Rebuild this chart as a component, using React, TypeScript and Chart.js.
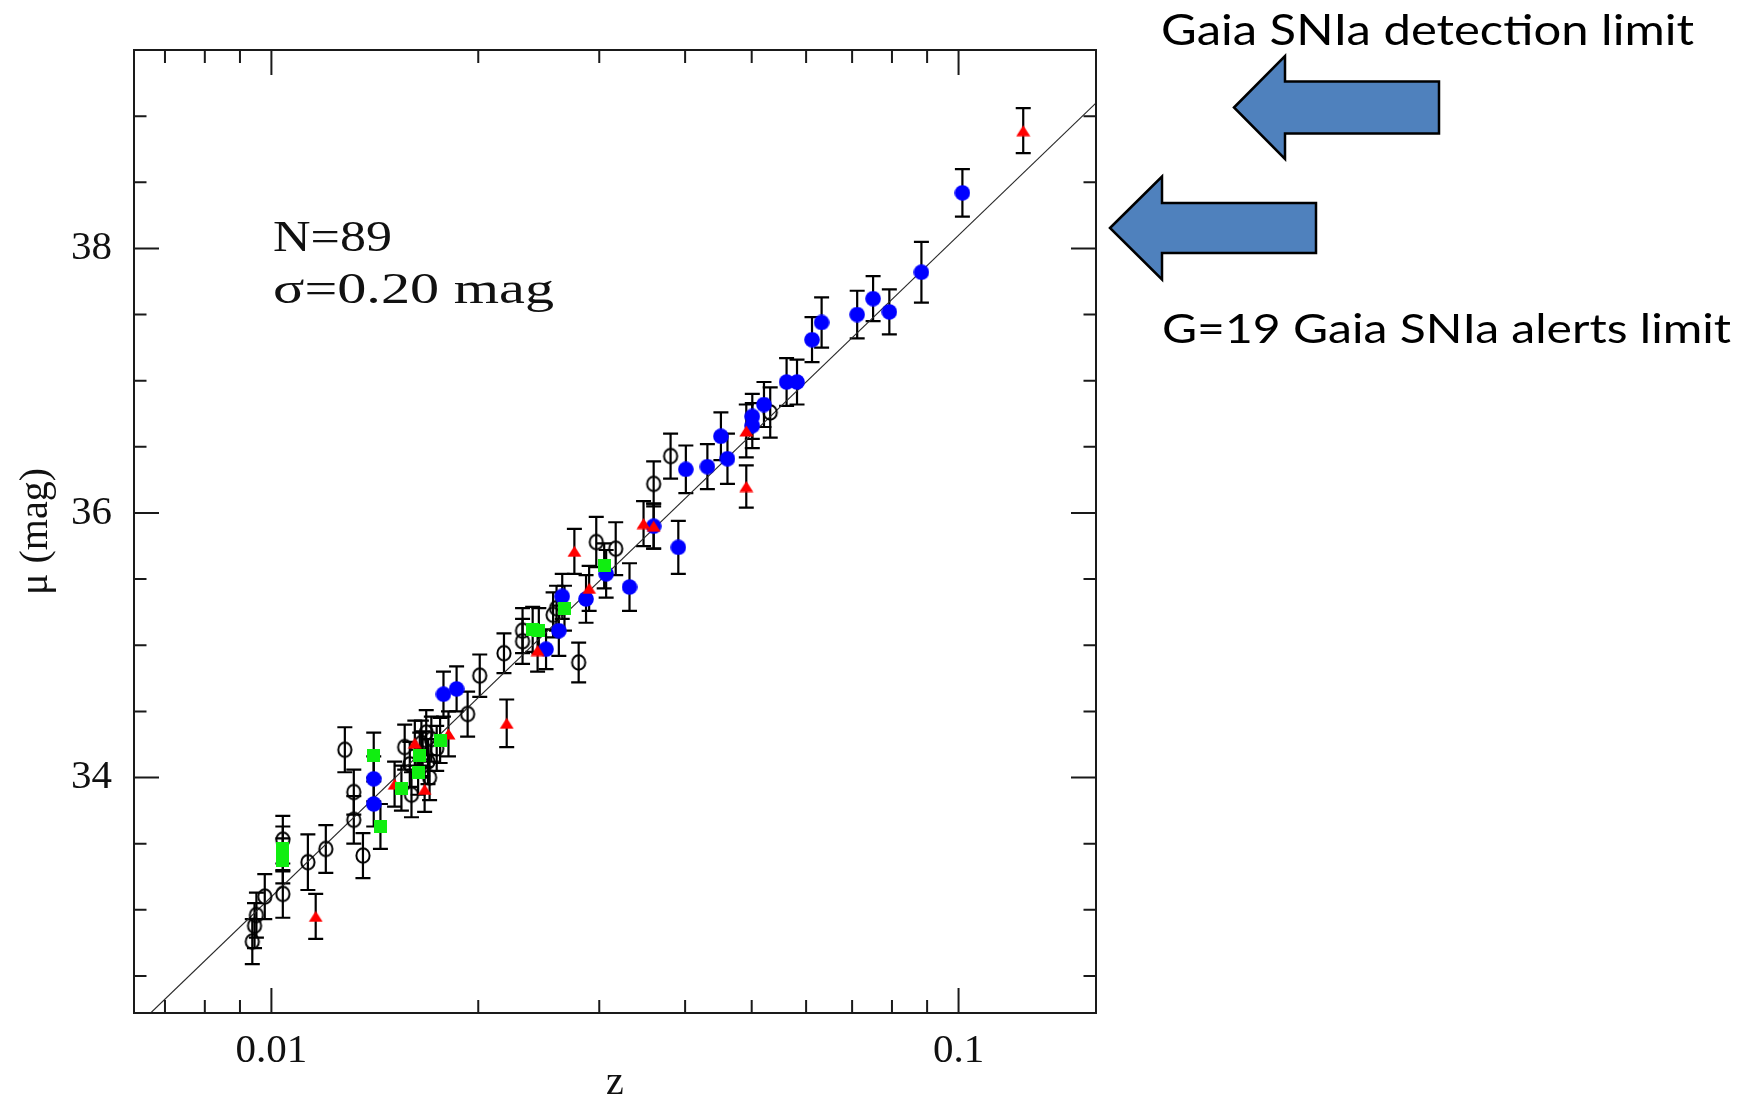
import React, { useEffect, useRef } from 'react';
import { Chart, registerables } from 'chart.js';

Chart.register(...registerables);

// ---- axis ranges & ticks ----
const xMin = 0.00631;
const xMax = 0.1585;
const yMin = 32.22;
const yMax = 39.5;
const xMajorTicks = [0.01, 0.1];
const xTickLabels = ['0.01', '0.1'];
const xMinorTicks = [0.007, 0.008, 0.009, 0.02, 0.03, 0.04, 0.05, 0.06, 0.07, 0.08, 0.09];
const yMajorTicks = [34, 36, 38];
const yTickLabels = ['34', '36', '38'];
const yMinorTicks = [32.5, 33, 33.5, 34.5, 35, 35.5, 36.5, 37, 37.5, 38.5, 39];

// ---- data: open circles ----
const zOpen = [0.0532, 0.0381, 0.036, 0.0317, 0.0297, 0.028, 0.026, 0.0257, 0.0232, 0.0232, 0.0218, 0.0201, 0.0193, 0.01699, 0.0169, 0.01709, 0.0168, 0.01653, 0.0166, 0.0174, 0.01599, 0.01563, 0.0159, 0.01279, 0.01318, 0.01318, 0.01359, 0.012, 0.0113, 0.01039, 0.01039, 0.00978, 0.00951, 0.00945, 0.00938];
const muOpen = [36.76, 36.43, 36.22, 35.73, 35.78, 34.87, 35.28, 35.23, 35.11, 35.03, 34.94, 34.77, 34.48, 34.0, 34.12, 34.29, 34.34, 34.26, 34.18, 34.22, 33.87, 34.23, 34.1, 34.21, 33.89, 33.68, 33.41, 33.46, 33.36, 33.53, 33.12, 33.1, 32.96, 32.88, 32.76];
const errOpen = [0.19, 0.17, 0.17, 0.2, 0.19, 0.15, 0.17, 0.17, 0.17, 0.17, 0.15, 0.16, 0.17, 0.17, 0.17, 0.17, 0.17, 0.17, 0.17, 0.17, 0.17, 0.17, 0.17, 0.17, 0.17, 0.18, 0.17, 0.18, 0.21, 0.18, 0.18, 0.17, 0.17, 0.17, 0.17];

// ---- data: blue filled circles ----
const zBlue = [0.1013, 0.0883, 0.0793, 0.0751, 0.0712, 0.0632, 0.0612, 0.0582, 0.0562, 0.0521, 0.0501, 0.0501, 0.0461, 0.0451, 0.0431, 0.0401, 0.0391, 0.036, 0.0332, 0.0307, 0.0287, 0.0265, 0.0262, 0.0251, 0.0186, 0.0178, 0.01409, 0.01409];
const muBlue = [38.42, 37.82, 37.52, 37.62, 37.5, 37.44, 37.31, 36.99, 36.99, 36.82, 36.73, 36.66, 36.41, 36.58, 36.35, 36.33, 35.74, 35.9, 35.44, 35.54, 35.35, 35.37, 35.11, 34.97, 34.67, 34.63, 33.99, 33.8];
const errBlue = [0.18, 0.23, 0.17, 0.17, 0.18, 0.19, 0.17, 0.17, 0.18, 0.17, 0.17, 0.17, 0.19, 0.18, 0.17, 0.18, 0.2, 0.17, 0.18, 0.18, 0.18, 0.17, 0.19, 0.15, 0.17, 0.17, 0.17, 0.17];

// ---- data: red triangles ----
const zRed = [0.1242, 0.0491, 0.0491, 0.036, 0.0348, 0.029, 0.0276, 0.0244, 0.022, 0.0181, 0.01671, 0.01617, 0.01511, 0.0116];
const muRed = [38.89, 36.62, 36.2, 35.9, 35.92, 35.43, 35.71, 34.96, 34.41, 34.33, 33.91, 34.26, 33.95, 32.95];
const errRed = [0.17, 0.2, 0.16, 0.17, 0.17, 0.17, 0.17, 0.16, 0.18, 0.17, 0.17, 0.17, 0.17, 0.17];

// ---- data: green squares ----
const zGreen = [0.0305, 0.0267, 0.0245, 0.024, 0.0176, 0.01644, 0.01635, 0.01546, 0.01441, 0.01409, 0.01039, 0.01039];
const muGreen = [35.6, 35.28, 35.11, 35.12, 34.28, 34.17, 34.04, 33.92, 33.63, 34.17, 33.46, 33.37];
const errGreen = [0.17, 0.17, 0.17, 0.17, 0.17, 0.17, 0.17, 0.17, 0.17, 0.17, 0.17, 0.17];

// ---- fitted Hubble line (end values) ----
const fitZ = [0.006, 0.16];
const fitMu = [31.99, 39.12];

// ---- annotation texts ----
const statLines = ['N=89', 'σ=0.20 mag'];
const gaiaLabels = ['Gaia SNIa detection limit', 'G=19 Gaia SNIa alerts limit'];

const SERIF = '"Liberation Serif", "DejaVu Serif", serif';
const SANS = 'Lato, "Open Sans", "Noto Sans", sans-serif';

function pts(z: number[], mu: number[]) {
  return z.map((v, i) => ({ x: v, y: mu[i] }));
}

function makeMarker(kind: string): HTMLCanvasElement {
  const c = document.createElement('canvas');
  const ctx = c.getContext('2d')!;
  if (kind === 'open') {
    c.width = 18; c.height = 19;
    ctx.strokeStyle = '#000';
    ctx.lineWidth = 2;
    ctx.beginPath();
    ctx.ellipse(9, 9.5, 6.6, 7.2, 0, 0, Math.PI * 2);
    ctx.stroke();
  } else if (kind === 'blue') {
    c.width = 16; c.height = 16;
    ctx.fillStyle = '#0000ff';
    ctx.beginPath();
    ctx.arc(8, 8, 7.8, 0, Math.PI * 2);
    ctx.fill();
  } else if (kind === 'red') {
    c.width = 15; c.height = 12;
    ctx.fillStyle = '#ff0000';
    ctx.beginPath();
    ctx.moveTo(7.5, 0.5);
    ctx.lineTo(14.5, 11.5);
    ctx.lineTo(0.5, 11.5);
    ctx.closePath();
    ctx.fill();
  } else {
    c.width = 13; c.height = 13;
    ctx.fillStyle = '#10ee10';
    ctx.fillRect(0, 0, 13, 13);
  }
  return c;
}

function fitText(ctx: CanvasRenderingContext2D, text: string, x: number, baseline: number, width: number, font: string) {
  ctx.save();
  ctx.font = font;
  ctx.textAlign = 'left';
  ctx.textBaseline = 'alphabetic';
  const w = ctx.measureText(text).width;
  ctx.translate(x, baseline);
  ctx.scale(width / w, 1);
  ctx.fillText(text, 0, 0);
  ctx.restore();
}

const groups = [
  { z: zOpen, mu: muOpen, err: errOpen },
  { z: zBlue, mu: muBlue, err: errBlue },
  { z: zRed, mu: muRed, err: errRed },
  { z: zGreen, mu: muGreen, err: errGreen },
];

const decorPlugin = {
  id: 'decor',
  beforeDatasetsDraw(chart: any) {
    const { ctx, chartArea: a } = chart;
    const xs = chart.scales.x;
    const ys = chart.scales.y;
    ctx.save();
    ctx.beginPath();
    ctx.rect(a.left, a.top, a.right - a.left, a.bottom - a.top);
    ctx.clip();
    ctx.strokeStyle = '#000';
    ctx.lineWidth = 2.2;
    groups.forEach((g) => {
      g.z.forEach((z, i) => {
        const px = xs.getPixelForValue(z);
        const t = ys.getPixelForValue(g.mu[i] + g.err[i]);
        const b = ys.getPixelForValue(g.mu[i] - g.err[i]);
        ctx.beginPath();
        ctx.moveTo(px, t); ctx.lineTo(px, b);
        ctx.moveTo(px - 7.5, t); ctx.lineTo(px + 7.5, t);
        ctx.moveTo(px - 7.5, b); ctx.lineTo(px + 7.5, b);
        ctx.stroke();
      });
    });
    ctx.restore();
  },
  afterDraw(chart: any) {
    const { ctx, chartArea: a } = chart;
    const xs = chart.scales.x;
    const ys = chart.scales.y;
    ctx.save();
    // frame
    ctx.strokeStyle = '#1a1a1a';
    ctx.lineWidth = 2;
    ctx.strokeRect(a.left, a.top, a.right - a.left, a.bottom - a.top);
    // ticks
    const xt = (v: number, len: number) => {
      const p = xs.getPixelForValue(v);
      ctx.beginPath();
      ctx.moveTo(p, a.bottom); ctx.lineTo(p, a.bottom - len);
      ctx.moveTo(p, a.top); ctx.lineTo(p, a.top + len);
      ctx.stroke();
    };
    const yt = (v: number, len: number) => {
      const p = ys.getPixelForValue(v);
      ctx.beginPath();
      ctx.moveTo(a.left, p); ctx.lineTo(a.left + len, p);
      ctx.moveTo(a.right, p); ctx.lineTo(a.right - len, p);
      ctx.stroke();
    };
    xMajorTicks.forEach((v) => xt(v, 25));
    xMinorTicks.forEach((v) => xt(v, 13));
    yMajorTicks.forEach((v) => yt(v, 25));
    yMinorTicks.forEach((v) => yt(v, 12.5));
    // statistics text
    ctx.fillStyle = '#111';
    fitText(ctx, statLines[0], a.left + 139, 251, 119, `45px ${SERIF}`);
    fitText(ctx, statLines[1], a.left + 139, 303, 281, `45px ${SERIF}`);
    // arrows
    const arrow = (tipX: number, tipY: number, headX: number, headHalf: number, shaftHalf: number, endX: number) => {
      ctx.beginPath();
      ctx.moveTo(tipX, tipY);
      ctx.lineTo(headX, tipY - headHalf);
      ctx.lineTo(headX, tipY - shaftHalf);
      ctx.lineTo(endX, tipY - shaftHalf);
      ctx.lineTo(endX, tipY + shaftHalf);
      ctx.lineTo(headX, tipY + shaftHalf);
      ctx.lineTo(headX, tipY + headHalf);
      ctx.closePath();
      ctx.fillStyle = '#4f81bd';
      ctx.fill();
      ctx.strokeStyle = '#000';
      ctx.lineWidth = 2.5;
      ctx.lineJoin = 'miter';
      ctx.stroke();
    };
    arrow(1234, 107.5, 1285, 51.5, 26, 1439);
    arrow(1110, 228, 1162, 51.5, 25, 1316);
    // labels
    ctx.fillStyle = '#000';
    fitText(ctx, gaiaLabels[0], 1161, 45, 533, `42px ${SANS}`);
    fitText(ctx, gaiaLabels[1], 1162, 343, 569, `40px ${SANS}`);
    ctx.restore();
  },
};

export default function App() {
  const ref = useRef<HTMLCanvasElement>(null);
  useEffect(() => {
    const canvas = ref.current;
    if (!canvas) return;
    const chart = new Chart(canvas, {
      type: 'scatter',
      data: {
        datasets: [
          { label: 'green', data: pts(zGreen, muGreen), pointStyle: makeMarker('green') as any, pointRadius: 6 },
          { label: 'red', data: pts(zRed, muRed), pointStyle: makeMarker('red') as any, pointRadius: 6 },
          { label: 'blue', data: pts(zBlue, muBlue), pointStyle: makeMarker('blue') as any, pointRadius: 8 },
          { label: 'open', data: pts(zOpen, muOpen), pointStyle: makeMarker('open') as any, pointRadius: 7 },
          {
            label: 'fit', data: pts(fitZ, fitMu), showLine: true, pointRadius: 0,
            borderColor: '#2a2a2a', borderWidth: 1.2, fill: false,
          } as any,
        ],
      },
      options: {
        responsive: false,
        animation: false,
        events: [],
        layout: { padding: { left: 0, top: 50, right: 660, bottom: 0 } },
        plugins: { legend: { display: false }, tooltip: { enabled: false } },
        scales: {
          x: {
            type: 'logarithmic',
            min: xMin,
            max: xMax,
            bounds: 'data',
            position: 'bottom',
            grid: { display: false, drawTicks: false },
            border: { display: false },
            afterFit: (s: any) => { s.height = 88; },
            afterBuildTicks: (s: any) => { s.ticks = xMajorTicks.map((v) => ({ value: v })); },
            ticks: {
              autoSkip: false,
              maxRotation: 0,
              padding: 14,
              color: '#111',
              font: { family: SERIF, size: 41 },
              callback: (_v: any, i: number) => xTickLabels[i],
            },
            title: {
              display: true,
              text: 'z',
              color: '#111',
              font: { family: SERIF, size: 40, lineHeight: 0.87 },
              padding: 0,
            },
          } as any,
          y: {
            type: 'linear',
            min: yMin,
            max: yMax,
            bounds: 'data',
            position: 'left',
            grid: { display: false, drawTicks: false },
            border: { display: false },
            afterFit: (s: any) => { s.width = 134; },
            afterBuildTicks: (s: any) => { s.ticks = yMajorTicks.map((v) => ({ value: v })); },
            ticks: {
              padding: 22,
              color: '#111',
              font: { family: SERIF, size: 41 },
              callback: (_v: any, i: number) => yTickLabels[i],
            },
            title: {
              display: true,
              text: 'μ (mag)',
              color: '#111',
              font: { family: SERIF, size: 40, lineHeight: 1 },
              padding: { top: 16, bottom: 0 },
            },
          } as any,
        },
      },
      plugins: [decorPlugin],
    });
    return () => chart.destroy();
  }, []);
  return (
    <canvas
      ref={ref}
      width={1756}
      height={1101}
      style={{ position: 'absolute', left: 0, top: 0, display: 'block', background: '#fff' }}
    />
  );
}
